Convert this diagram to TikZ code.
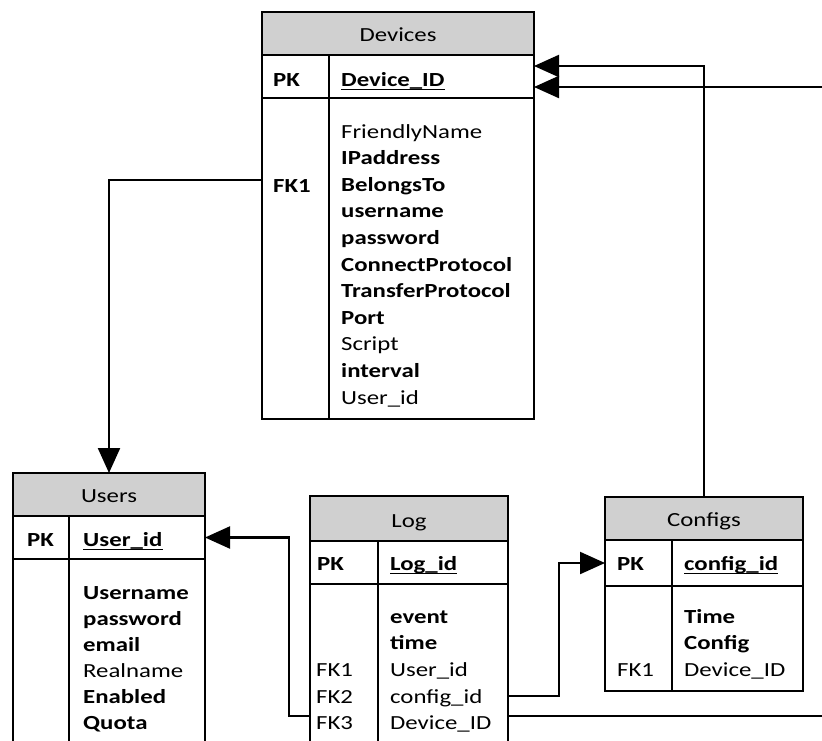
\documentclass[tikz,border=0pt]{standalone}
\usepackage{fontspec}
\setmainfont{Carlito}[FakeStretch=1.24]
\usetikzlibrary{arrows.meta}
\definecolor{hdrgray}{RGB}{208,208,208}
\tikzset{
  tbl/.style={draw, line width=1.3pt, anchor=north west, inner sep=0pt, outer sep=0pt, minimum height=43pt},
  hdrbox/.style={tbl, fill=hdrgray},
  divline/.style={line width=1.3pt},
  conn/.style={line width=2.2pt},
  tip/.style={-{Triangle[length=25pt,width=22pt]}},
  txt/.style={anchor=base west, inner sep=0pt, font=\fontsize{20}{24}\selectfont},
  btxt/.style={anchor=base west, inner sep=0pt, font=\fontsize{20}{24}\selectfont\bfseries},
  ttl/.style={anchor=base, inner sep=0pt, font=\fontsize{20}{24}\selectfont},
  uline/.style={line width=1.3pt},
}
\begin{document}
\begin{tikzpicture}[x=1pt,y=-1pt]
\useasboundingbox (0,0) rectangle (822,740);
\clip (0,0) rectangle (822,740);

% ---------------- Devices ----------------
\node[hdrbox, minimum width=272pt] (devhdr) at (262,12) {};
\node[tbl, minimum width=272pt] (devpk) at (262,55) {};
\node[tbl, minimum width=272pt, minimum height=321pt] (devbody) at (262,98) {};
\draw[divline] (329,55) -- (329,419);
\node[ttl] (devttl) at (398,41) {Devices};
\node[btxt] (devpkl) at (273,86) {PK};
\node[btxt] (devpkv) at (341,86) {Device\_ID};
\draw[uline] ([yshift=-3.5pt]devpkv.base west) -- ([yshift=-3.5pt]devpkv.base east);
\node[btxt] (devfk) at (273,192.2) {FK1};
\node[txt]  (dev1)  at (341,138)   {FriendlyName};
\node[btxt] (dev2)  at (341,164.6) {IPaddress};
\node[btxt] (dev3)  at (341,191.2) {BelongsTo};
\node[btxt] (dev4)  at (341,217.8) {username};
\node[btxt] (dev5)  at (341,244.4) {password};
\node[btxt] (dev6)  at (341,271)   {ConnectProtocol};
\node[btxt] (dev7)  at (341,297.6) {TransferProtocol};
\node[btxt] (dev8)  at (341,324.2) {Port};
\node[txt]  (dev9)  at (341,350.8) {Script};
\node[btxt] (dev10) at (341,377.4) {interval};
\node[txt]  (dev11) at (341,404)   {User\_id};

% ---------------- Users ----------------
\node[hdrbox, minimum width=192pt] (usrhdr) at (13,473) {};
\node[tbl, minimum width=192pt] (usrpk) at (13,516) {};
\node[tbl, minimum width=192pt, minimum height=220pt] (usrbody) at (13,559) {};
\draw[divline] (69,516) -- (69,790);
\node[ttl] (usrttl) at (109,502) {Users};
\node[btxt] (usrpkl) at (27,546) {PK};
\node[btxt] (usrpkv) at (83,546) {User\_id};
\draw[uline] ([yshift=-3.5pt]usrpkv.base west) -- ([yshift=-3.5pt]usrpkv.base east);
\node[btxt] (usr1) at (83,599) {Username};
\node[btxt] (usr2) at (83,625) {password};
\node[btxt] (usr3) at (83,651) {email};
\node[txt]  (usr4) at (83,677) {Realname};
\node[btxt] (usr5) at (83,703) {Enabled};
\node[btxt] (usr6) at (83,729) {Quota};

% ---------------- Log ----------------
\node[hdrbox, minimum width=198pt, minimum height=45pt] (loghdr) at (310,496) {};
\node[tbl, minimum width=198pt] (logpk) at (310,541) {};
\node[tbl, minimum width=198pt, minimum height=200pt] (logbody) at (310,584) {};
\draw[divline] (378,541) -- (378,790);
\node[ttl] (logttl) at (409,527) {Log};
\node[btxt] (logpkl) at (317,570) {PK};
\node[btxt] (logpkv) at (390,570) {Log\_id};
\draw[uline] ([yshift=-3.5pt]logpkv.base west) -- ([yshift=-3.5pt]logpkv.base east);
\node[btxt] (log1) at (390,623)   {event};
\node[btxt] (log2) at (390,649.7) {time};
\node[txt]  (log3) at (390,676.4) {User\_id};
\node[txt]  (log4) at (390,703.1) {config\_id};
\node[txt]  (log5) at (390,729.8) {Device\_ID};
\node[txt]  (logf1) at (316,676.4) {FK1};
\node[txt]  (logf2) at (316,703.1) {FK2};
\node[txt]  (logf3) at (316,729.8) {FK3};

% ---------------- Configs ----------------
\node[hdrbox, minimum width=198pt] (cfghdr) at (605,497) {};
\node[tbl, minimum width=198pt, minimum height=46pt] (cfgpk) at (605,540) {};
\node[tbl, minimum width=198pt, minimum height=105pt] (cfgbody) at (605,586) {};
\draw[divline] (672,540) -- (672,691);
\node[ttl] (cfgttl) at (704,526) {Configs};
\node[btxt] (cfgpkl) at (617,570) {PK};
\node[btxt] (cfgpkv) at (684,570) {config\_id};
\draw[uline] ([yshift=-3.5pt]cfgpkv.base west) -- ([yshift=-3.5pt]cfgpkv.base east);
\node[btxt] (cfg1) at (684,623)   {Time};
\node[btxt] (cfg2) at (684,649.7) {Config};
\node[txt]  (cfg3) at (684,676.4) {Device\_ID};
\node[txt]  (cfgf1) at (617,676.4) {FK1};

% ---------------- connectors ----------------
\coordinate (devfkpt) at (262,180);
\coordinate (usrtop) at (109,473);
\coordinate (logfk2) at (508,696);
\coordinate (logfk3r) at (508,716);
\coordinate (logfk3l) at (310,716);
\coordinate (offright) at (830,716);

% Devices FK1 -> Users
\draw[conn, tip] (devfkpt) -| (usrtop);
% Configs -> Devices
\draw[conn, tip] (cfghdr.north) |- ([yshift=10.5pt]devpk.east);
% Log FK3 -> Devices (runs off to the right)
\draw[conn, tip] (logfk3r) -- (offright) |- ([yshift=-10.5pt]devpk.east);
% Log FK2 -> Configs
\draw[conn, tip] (logfk2) -| (559,620) |- (cfgpk.west);
% Log -> Users
\draw[conn, tip] (logfk3l) -| (289,620) |- (usrpk.east);
\end{tikzpicture}
\end{document}
